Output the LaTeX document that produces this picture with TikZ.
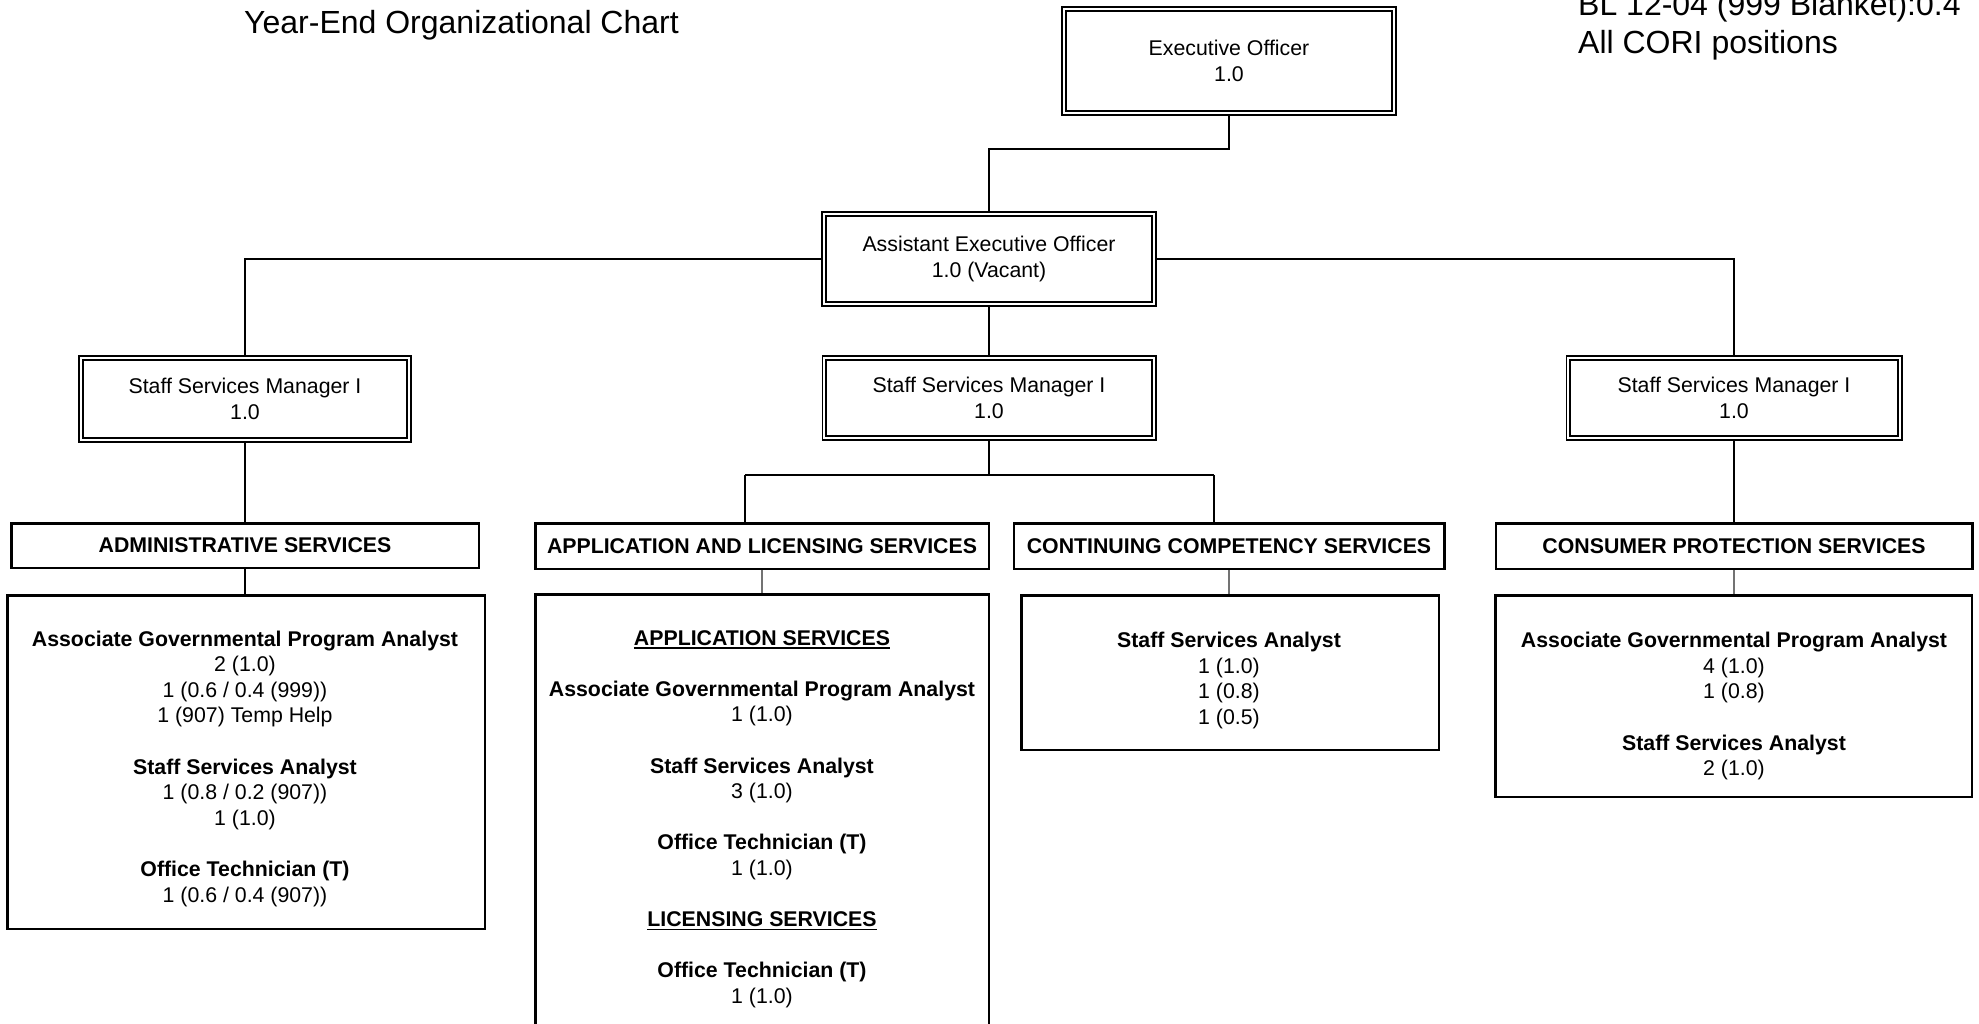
\documentclass[tikz,border=0pt]{standalone}
\usepackage{fontspec}
\setmainfont{Liberation Sans}
% one line of a position list: bold title or plain count, each on a strut
\newcommand\roleTitle[1]{\strut\textbf{#1}}
\newcommand\roleCount[1]{\strut#1}
% underlined bold section heading inside a list
\newcommand\secTitle[1]{\strut\setbox0\hbox{\textbf{#1}}\rlap{\rule[-3.6pt]{\wd0}{1.8pt}}\box0}
\begin{document}
\begin{tikzpicture}[x=1pt,y=-1pt,
  txt/.style={font=\fontsize{21.3}{26}\selectfont, align=center, inner sep=0pt},
  dbox/.style 2 args={txt, draw, line width=1.9pt, double, double distance=2pt,
    minimum width={#1pt-5.8pt}, minimum height={#2pt-5.8pt}},
  hbox/.style 2 args={txt, font=\fontsize{21.3}{26}\selectfont\bfseries, draw, line width=2.5pt,
    minimum width={#1pt-2.5pt}, minimum height={#2pt-2.5pt}},
  dtl/.style 2 args={draw, line width=2.5pt, inner sep=0pt,
    minimum width={#1pt-2.5pt}, minimum height={#2pt-2.5pt}},
  list/.style={font=\fontsize{21.3}{25.6}\selectfont, align=center, inner sep=0pt, anchor=north},
  conn/.style={line width=2pt},
  feed/.style={line width=1.1pt, black!55},
  big/.style={font=\fontsize{32}{38}\selectfont, inner sep=0pt, anchor=base west}]

\useasboundingbox (0,0) rectangle (1979,1024);
\fill[white] (0,0) rectangle (1979,1024);
\clip (0,0) rectangle (1979,1024);

% headings
\node[big] (title) at (244,34) {Year-End Organizational Chart};
\node[big] (noteA) at (1578,16) {BL 12-04 (999 Blanket):0.4};
\node[big] (noteB) at (1578,54) {All CORI positions};

% management boxes
\node[dbox={336}{110}] (exec) at (1229,61) {Executive Officer\\1.0};
\node[dbox={336}{96}] (aeo) at (989,259) {Assistant Executive Officer\\1.0 (Vacant)};
\node[dbox={334}{88}] (ssmA) at (245,399) {Staff Services Manager I\\1.0};
\node[dbox={335}{86}] (ssmB) at (989,398) {Staff Services Manager I\\1.0};
\node[dbox={337}{86}] (ssmC) at (1734,398) {Staff Services Manager I\\1.0};

% unit headers
\node[hbox={470}{47}] (hAdm) at (245,545.5) {ADMINISTRATIVE SERVICES};
\node[hbox={456}{48}] (hApp) at (762,546) {APPLICATION AND LICENSING SERVICES};
\node[hbox={433}{48}] (hCont) at (1229,546) {CONTINUING COMPETENCY SERVICES};
\node[hbox={479}{48}] (hCons) at (1734,546) {CONSUMER PROTECTION SERVICES};

% unit staff boxes
\node[dtl={480}{336}] (dAdm) at (246,762) {};
\node[dtl={456}{470}] (dApp) at (762,828) {};
\node[dtl={420}{157}] (dCont) at (1230,672.5) {};
\node[dtl={479}{204}] (dCons) at (1733.5,696) {};

% staff lists
\node[list] (lAdm) at (245,628) {%
  \roleTitle{Associate Governmental Program Analyst}\\
  \roleCount{2 (1.0)}\\
  \roleCount{1 (0.6 / 0.4 (999))}\\
  \roleCount{1 (907) Temp Help}\\[25.6pt]
  \roleTitle{Staff Services Analyst}\\
  \roleCount{1 (0.8 / 0.2 (907))}\\
  \roleCount{1 (1.0)}\\[25.6pt]
  \roleTitle{Office Technician (T)}\\
  \roleCount{1 (0.6 / 0.4 (907))}};

\node[list] (lApp) at (762,627) {%
  \secTitle{APPLICATION SERVICES}\\[25.6pt]
  \roleTitle{Associate Governmental Program Analyst}\\
  \roleCount{1 (1.0)}\\[25.6pt]
  \roleTitle{Staff Services Analyst}\\
  \roleCount{3 (1.0)}\\[25.6pt]
  \roleTitle{Office Technician (T)}\\
  \roleCount{1 (1.0)}\\[25.6pt]
  \secTitle{LICENSING SERVICES}\\[25.6pt]
  \roleTitle{Office Technician (T)}\\
  \roleCount{1 (1.0)}};

\node[list] (lCont) at (1229,629.5) {%
  \roleTitle{Staff Services Analyst}\\
  \roleCount{1 (1.0)}\\
  \roleCount{1 (0.8)}\\
  \roleCount{1 (0.5)}};

\node[list] (lCons) at (1734,629.5) {%
  \roleTitle{Associate Governmental Program Analyst}\\
  \roleCount{4 (1.0)}\\
  \roleCount{1 (0.8)}\\[25.6pt]
  \roleTitle{Staff Services Analyst}\\
  \roleCount{2 (1.0)}};

% reporting lines
\draw[conn] (exec.south) -- ++(0,35) -| (aeo.north);
\draw[conn] (aeo.west) -| (ssmA.north);
\draw[conn] (aeo.east) -| (ssmC.north);
\draw[conn] (aeo.south) -- (ssmB.north);
\draw[conn] (ssmA.south) -- (ssmA.south |- hAdm.north);
\draw[conn] (ssmC.south) -- (ssmC.south |- hCons.north);

\coordinate (bar) at (989,475);
\coordinate (barL) at (745,475);
\coordinate (barR) at (1214,475);
\draw[conn] (ssmB.south) -- (bar);
\draw[conn] (barL) -- (barR);
\draw[conn] (barL) -- (barL |- hApp.north);
\draw[conn] (barR) -- (barR |- hCont.north);

% header to staff box
\draw[conn] (hAdm.south) -- (hAdm.south |- dAdm.north);
\draw[feed] (hApp.south) -- (hApp.south |- dApp.north);
\draw[feed] (hCont.south) -- (hCont.south |- dCont.north);
\draw[feed] (hCons.south) -- (hCons.south |- dCons.north);
\end{tikzpicture}
\end{document}
